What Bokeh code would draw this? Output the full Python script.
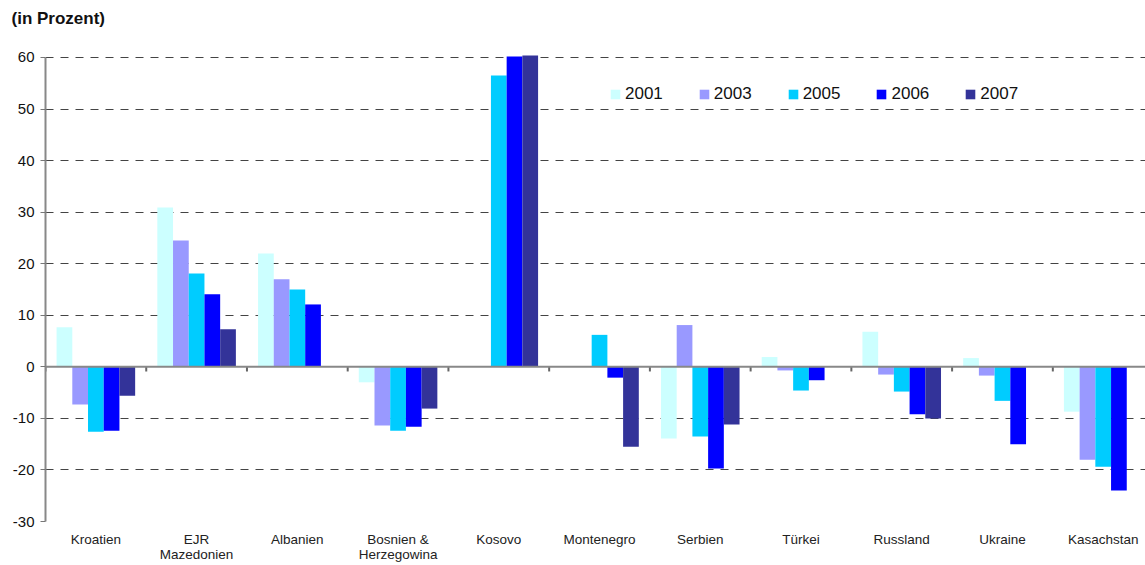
import numpy as np
from bokeh.plotting import figure
from bokeh.models import Range1d, FixedTicker, ColumnDataSource, Span
from bokeh.embed import file_html
from bokeh.resources import INLINE

nan = np.nan
countries = ["Kroatien", "EJR\nMazedonien", "Albanien", "Bosnien &\nHerzegowina", "Kosovo",
             "Montenegro", "Serbien", "Türkei", "Russland", "Ukraine", "Kasachstan"]
years = ["2001", "2003", "2005", "2006", "2007"]
v2001 = [7.7, 30.9, 22.0, -3.0, nan, nan, -13.9, 1.9, 6.8, 1.7, -8.7]
v2003 = [-7.3, 24.5, 17.0, -11.4, nan, nan, 8.1, -0.7, -1.5, -1.7, -18.0]
v2005 = [-12.6, 18.1, 15.0, -12.4, 56.5, 6.2, -13.5, -4.6, -4.8, -6.6, -19.4]
v2006 = [-12.4, 14.1, 12.1, -11.6, 60.2, -2.1, -19.7, -2.6, -9.2, -15.0, -24.0]
v2007 = [-5.6, 7.3, nan, -8.1, 60.4, -15.5, -11.2, nan, -10.0, nan, nan]
y_ticks = [-30, -20, -10, 0, 10, 20, 30, 40, 50, 60]

series = [v2001, v2003, v2005, v2006, v2007]
colors = ["#CCFFFF", "#9999FF", "#00CCFF", "#0000FF", "#333399"]

FONT = "Liberation Sans"
bar_w = 0.156

p = figure(width=1145, height=565, output_backend="svg", toolbar_location=None,
           x_range=Range1d(0, 10.92), y_range=Range1d(-30, 65.62),
           min_border_left=45, min_border_right=0, min_border_top=28, min_border_bottom=44)
p.outline_line_color = None
p.background_fill_color = "white"
p.border_fill_color = "white"

p.xgrid.grid_line_color = None
p.ygrid.ticker = FixedTicker(ticks=y_ticks)
p.ygrid.grid_line_color = "#444444"
p.ygrid.grid_line_width = 1
p.ygrid.grid_line_dash = "8 7"

centers = np.arange(len(countries)) + 0.5
for k, (vals, col, yr) in enumerate(zip(series, colors, years)):
    src = ColumnDataSource(dict(x=centers + (k - 2) * bar_w, top=np.array(vals, dtype=float)))
    p.vbar(x="x", top="top", bottom=0, width=bar_w, source=src, fill_color=col,
           line_color=None, legend_label=yr)

# zero line with category boundary ticks
bounds = np.arange(len(countries) + 1)
p.segment(x0=bounds, y0=np.zeros(len(bounds)), x1=bounds, y1=np.full(len(bounds), -0.9),
          line_color="#666666", line_width=2)
p.add_layout(Span(location=0, dimension="width", line_color="#888888", line_width=2))

# category labels at bottom
p.xaxis.ticker = FixedTicker(ticks=list(centers))
p.xaxis.major_label_overrides = {float(c): name for c, name in zip(centers, countries)}
p.xaxis.axis_line_color = None
p.xaxis.major_tick_line_color = None
p.xaxis.minor_tick_line_color = None
p.xaxis.major_label_text_font = FONT
p.xaxis.major_label_text_font_size = "13.5px"
p.xaxis.major_label_text_line_height = 1.0
p.xaxis.major_label_text_color = "#222222"
p.xaxis.major_label_standoff = 4

# y axis
p.yaxis.ticker = FixedTicker(ticks=y_ticks)
p.yaxis.bounds = (-30, 60)
p.yaxis.major_label_overrides = {t: str(t) for t in y_ticks}
p.yaxis.axis_line_color = "#888888"
p.yaxis.axis_line_width = 2
p.yaxis.major_tick_line_color = "#777777"
p.yaxis.major_tick_line_width = 1
p.yaxis.major_tick_out = 5
p.yaxis.major_tick_in = 0
p.yaxis.minor_tick_line_color = None
p.yaxis.major_label_text_font = FONT
p.yaxis.major_label_text_font_size = "15px"
p.yaxis.major_label_text_color = "#111111"
p.yaxis.major_label_standoff = 6

# title
p.title.text = "(in Prozent)"
p.title.text_font = FONT
p.title.text_font_size = "17px"
p.title.text_font_style = "bold"
p.title.text_color = "#111111"
p.title.align = "left"
p.title.offset = -34
p.title.standoff = 2

# legend
p.legend.orientation = "horizontal"
p.legend.location = (564, 417)
p.legend.border_line_color = None
p.legend.background_fill_alpha = 0
p.legend.padding = 0
p.legend.margin = 0
p.legend.spacing = 35
p.legend.glyph_width = 12
p.legend.glyph_height = 12
p.legend.label_standoff = 4
p.legend.label_height = 20
p.legend.label_text_font = FONT
p.legend.label_text_font_size = "17px"
p.legend.label_text_color = "#111111"

open("out.html", "w").write(file_html(p, INLINE))
